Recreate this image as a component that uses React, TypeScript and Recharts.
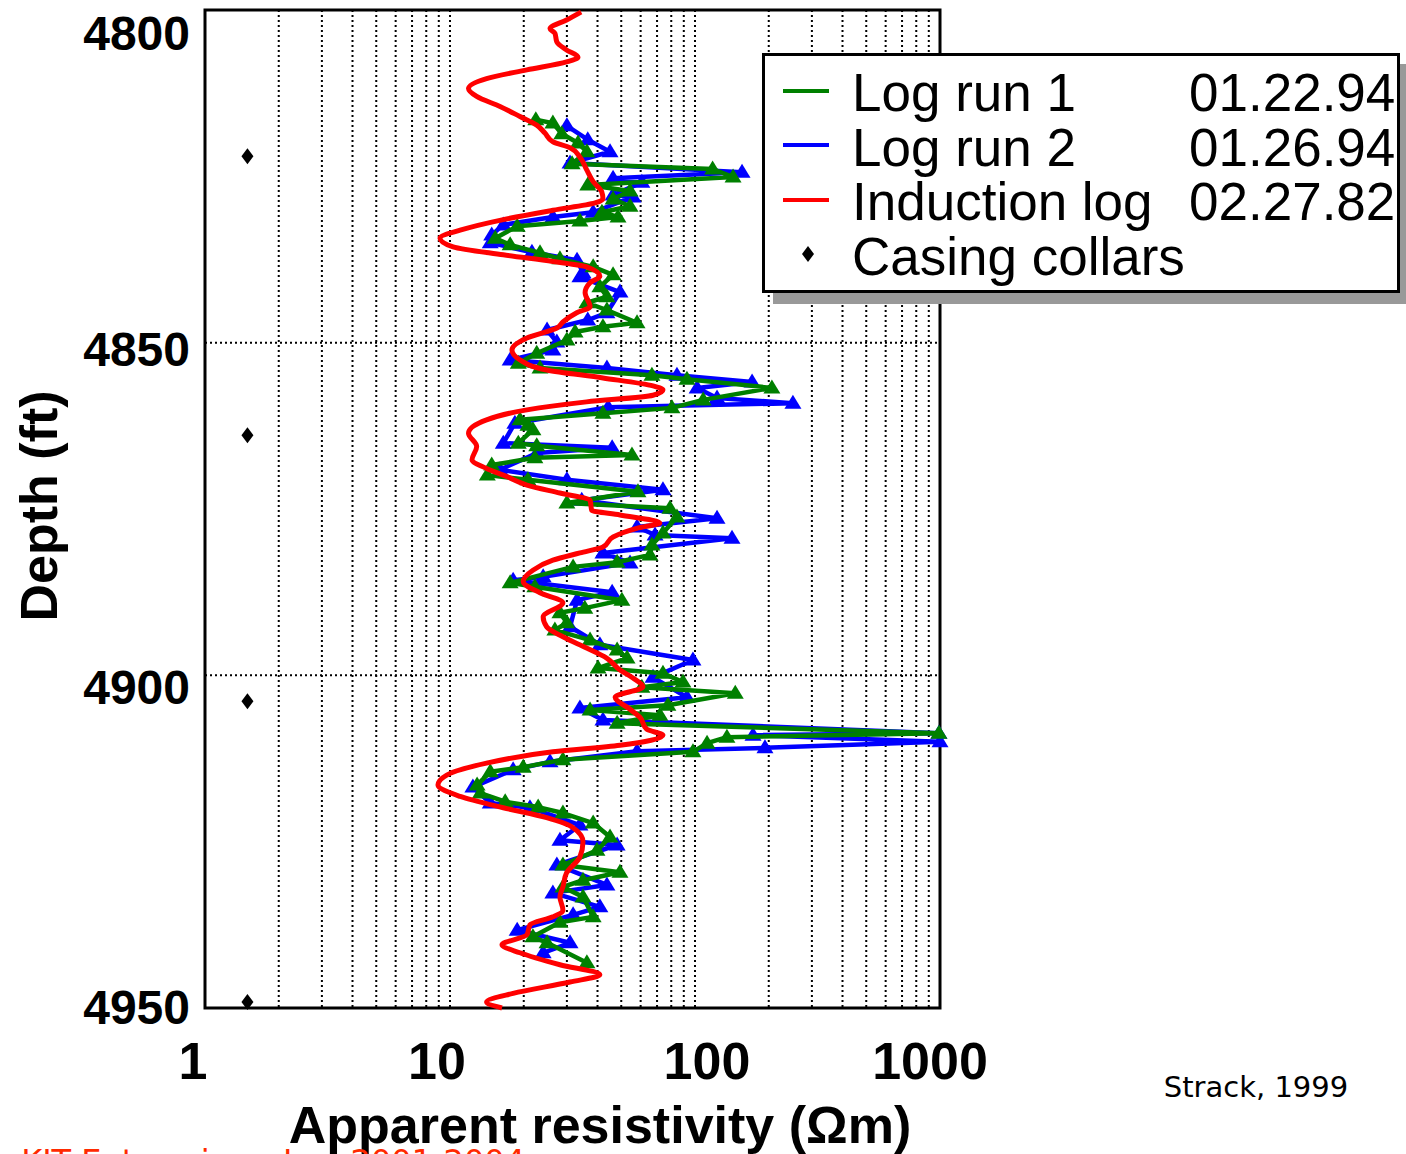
import React from 'react';
import {
  ScatterChart,
  Scatter,
  XAxis,
  YAxis,
  CartesianGrid,
  ReferenceArea,
  Legend,
  Customized,
} from 'recharts';

// ---------- axes ----------
const xTicks = [1, 10, 100, 1000];
const yTicks = [4800, 4850, 4900, 4950];
const xGridValues = [2, 3, 4, 5, 6, 7, 8, 9, 10, 20, 30, 40, 50, 60, 70, 80, 90, 100, 200, 300, 400, 500, 600, 700, 800, 900];
const yGridValues = [4850, 4900];

// ---------- Log run 1 (green), 01.22.94 ----------
const run1Depth = [
  4816.5, 4817.0, 4818.6, 4820.0, 4821.3, 4823.1, 4823.9, 4825.1, 4826.3, 4827.2,
  4828.4, 4829.5, 4830.4, 4831.1, 4831.7, 4832.5, 4834.3, 4835.3, 4836.5, 4837.4,
  4838.6, 4839.8, 4841.6, 4843.1, 4844.0, 4845.1, 4847.0, 4847.6, 4848.4, 4849.6,
  4851.6, 4853.1, 4853.8, 4854.9, 4855.5, 4856.8, 4858.6, 4859.8, 4860.6, 4861.6,
  4862.4, 4863.1, 4865.1, 4865.5, 4866.9, 4867.3, 4868.4, 4869.9, 4870.6, 4872.4,
  4874.1, 4874.9, 4876.2, 4878.6, 4880.4, 4881.9, 4883.0, 4883.7, 4886.1, 4886.7,
  4888.7, 4889.9, 4890.6, 4892.1, 4893.2, 4894.7, 4896.2, 4897.4, 4898.9, 4899.7,
  4901.0, 4901.8, 4902.7, 4904.5, 4905.2, 4906.0, 4907.2, 4908.7, 4909.3, 4910.2,
  4911.5, 4912.7, 4913.8, 4914.5, 4916.5, 4917.7, 4919.0, 4919.8, 4920.7, 4922.2,
  4924.3, 4926.3, 4928.5, 4929.6, 4930.8, 4931.8, 4933.3, 4936.3, 4937.1, 4939.3,
  4940.2, 4943.2,
];
const run1Res = [
  22.4, 26.3, 28.6, 33.3, 36.2, 31.5, 118, 143, 36.5, 54.3,
  46.3, 54.3, 41.7, 48.5, 33.9, 18.8, 15.3, 17.6, 23.3, 28.1,
  38.4, 46.3, 40.9, 43.7, 36.2, 43.7, 58.0, 42.1, 32.4, 30.0,
  22.6, 19.0, 23.3, 66.7, 92.7, 206, 108, 80.5, 42.1, 19.3,
  20.8, 21.8, 19.0, 22.6, 55.3, 22.2, 14.8, 14.2, 20.8, 58.5,
  30.0, 79.0, 84.4, 74.0, 66.7, 65.5, 48.1, 31.8, 17.6, 22.2,
  50.3, 35.5, 28.1, 30.0, 26.8, 37.3, 48.1, 52.8, 40.2, 74.0,
  89.3, 60.7, 146, 77.5, 37.3, 71.9, 48.1, 990, 135, 112,
  98.1, 28.9, 19.9, 14.6, 12.9, 13.3, 16.8, 22.9, 28.9, 38.4,
  45.0, 39.8, 28.9, 49.4, 34.9, 28.9, 34.9, 38.4, 28.1, 21.8,
  24.9, 36.2,
];

// ---------- Log run 2 (blue), 01.26.94 ----------
const run2Depth = [
  4817.4, 4819.5, 4821.3, 4823.0, 4824.4, 4825.3, 4825.9, 4827.8, 4828.1, 4830.4,
  4831.1, 4832.3, 4833.8, 4835.0, 4836.4, 4837.6, 4839.5, 4840.1, 4842.4, 4845.5,
  4846.6, 4848.1, 4849.9, 4851.1, 4852.6, 4853.8, 4854.9, 4855.9, 4856.8, 4858.3,
  4859.1, 4859.7, 4862.1, 4865.1, 4865.8, 4866.6, 4869.1, 4870.6, 4872.1, 4873.7,
  4876.4, 4877.7, 4878.9, 4879.4, 4881.6, 4883.1, 4885.2, 4885.7, 4887.5, 4888.7,
  4892.7, 4895.4, 4897.7, 4900.3, 4903.3, 4904.9, 4906.7, 4908.7, 4909.0, 4910.0,
  4910.9, 4911.4, 4913.0, 4914.2, 4916.8, 4919.2, 4919.9, 4922.5, 4924.8, 4925.5,
  4928.5, 4931.5, 4932.7, 4934.8, 4936.0, 4938.3, 4940.2, 4941.7,
];
const run2Res = [
  30.0, 36.5, 45.0, 30.9, 155.6, 46.3, 60.7, 46.3, 55.9, 38.4,
  26.3, 16.5, 14.8, 14.6, 21.6, 33.0, 34.9, 33.9, 49.4, 43.7,
  36.5, 24.9, 27.3, 26.3, 17.6, 43.7, 84.4, 171, 102, 123,
  251, 44.2, 18.4, 16.5, 45.9, 22.6, 16.0, 30.0, 74.0, 34.5,
  123, 58.0, 68.7, 141.6, 42.1, 54.3, 24.0, 18.1, 45.9, 33.0,
  30.9, 40.9, 98.1, 67.4, 92.7, 33.9, 42.1, 990, 172.5, 1000,
  193, 58.0, 25.6, 18.1, 12.4, 14.6, 21.2, 33.9, 28.1, 48.1,
  27.3, 43.7, 26.3, 40.9, 31.8, 18.8, 30.9, 24.0,
];

// ---------- Induction log (red), 02.27.82 ----------
const inductionDepth = [
  4800.3, 4801.5, 4802.8, 4803.5, 4804.8, 4806.0, 4807.1, 4807.8, 4809.0, 4810.3,
  4811.8, 4813.0, 4814.5, 4816.0, 4817.3, 4818.5, 4819.8, 4820.7, 4822.1, 4824.0,
  4825.8, 4827.3, 4828.4, 4829.0, 4830.1, 4831.5, 4833.1, 4834.3, 4835.6, 4836.8,
  4837.8, 4838.6, 4840.0, 4841.0, 4842.5, 4844.6, 4845.5, 4846.9, 4847.8, 4849.3,
  4851.1, 4852.6, 4854.1, 4855.3, 4856.5, 4857.1, 4857.9, 4858.9, 4860.1, 4861.6,
  4863.6, 4865.6, 4867.6, 4868.9, 4870.1, 4871.4, 4872.6, 4873.7, 4875.2, 4875.9,
  4877.1, 4877.9, 4879.2, 4880.7, 4881.6, 4882.7, 4884.2, 4885.9, 4887.6, 4889.1,
  4891.2, 4892.7, 4894.2, 4895.9, 4897.4, 4899.2, 4900.4, 4901.7, 4903.3, 4905.1,
  4906.3, 4908.1, 4909.0, 4910.5, 4911.5, 4913.2, 4915.0, 4916.5, 4918.2, 4919.9,
  4921.4, 4922.9, 4925.0, 4927.3, 4929.7, 4931.8, 4933.3, 4935.3, 4936.3, 4937.5,
  4939.0, 4940.5, 4941.7, 4943.5, 4945.0, 4946.1, 4947.8, 4949.1, 4950.0,
];
const inductionRes = [
  34.3, 29.9, 25.6, 26.8, 27.3, 29.9, 33.3, 29.9, 20.6, 14.1,
  11.9, 12.85, 16.0, 19.3, 22.6, 24.4, 26.3, 30.9, 33.9, 36.1,
  38.4, 41.6, 42.1, 39.1, 26.3, 16.5, 11.0, 9.1, 10.3, 16.5,
  26.3, 36.1, 40.9, 37.3, 35.6, 37.3, 32.9, 28.9, 27.3, 20.6,
  17.9, 19.3, 24.8, 42.1, 67.4, 74.0, 67.4, 36.1, 20.6, 14.1,
  11.9, 12.85, 12.3, 14.1, 17.0, 20.6, 28.1, 37.3, 37.9, 49.4,
  71.9, 57.8, 46.3, 42.1, 33.9, 26.3, 21.8, 19.9, 23.3, 28.9,
  24.0, 24.8, 28.9, 36.1, 43.6, 49.4, 55.8, 61.3, 47.2, 54.3,
  59.6, 63.5, 74.0, 49.4, 26.3, 14.1, 9.7, 8.93, 11.0, 16.5,
  24.8, 31.8, 34.9, 33.9, 29.9, 28.9, 28.1, 28.9, 26.3, 21.2,
  20.6, 16.3, 19.3, 28.1, 40.9, 30.9, 18.1, 14.1, 16.3,
];

// ---------- Casing collars ----------
const collarDepth = [4822.0, 4863.9, 4903.9, 4949.1];
const collarRes = [1.49, 1.49, 1.49, 1.49];

// ---------- legend ----------
const legendNames = ['Log run 1', 'Log run 2', 'Induction log', 'Casing collars'];
const legendDates = ['01.22.94', '01.26.94', '02.27.82', ''];
const legendColors = ['#008000', '#0000ff', '#ff0000', '#000000'];

const zip = (depths: number[], res: number[]) => depths.map((d, i) => ({ d, r: res[i] }));
const run1Data = zip(run1Depth, run1Res);
const run2Data = zip(run2Depth, run2Res);
const inductionData = zip(inductionDepth, inductionRes);
const collarData = zip(collarDepth, collarRes);

const FONT = '"Liberation Sans", Arial, Helvetica, sans-serif';

const makeTriangle = (color: string) => (props: any) => {
  const { cx, cy } = props;
  if (cx == null || cy == null) return <g />;
  return (
    <polygon
      points={`${cx},${cy - 8.5} ${cx - 8.5},${cy + 5.5} ${cx + 8.5},${cy + 5.5}`}
      fill={color}
    />
  );
};

const Diamond = (props: any) => {
  const { cx, cy } = props;
  if (cx == null || cy == null) return <g />;
  return <polygon points={`${cx},${cy - 8} ${cx + 6},${cy} ${cx},${cy + 8} ${cx - 6},${cy}`} fill="#000" />;
};

const NoShape = () => <g />;

const yTickShift = [23, 6, 11, -1];
const xTickShift = [-12, -13, 12, -10];

const YTick = (props: any) => {
  const { payload } = props;
  const idx = yTicks.indexOf(payload.value);
  const cy = payload.coordinate + (idx >= 0 ? yTickShift[idx] : 0);
  return (
    <text x={190} y={cy} dy="0.36em" textAnchor="end" fontFamily={FONT} fontWeight="bold" fontSize={48} fill="#000">
      {payload.value}
    </text>
  );
};

const XTick = (props: any) => {
  const { payload } = props;
  const idx = xTicks.indexOf(payload.value);
  const cx = payload.coordinate + (idx >= 0 ? xTickShift[idx] : 0);
  return (
    <text x={cx} y={1079} textAnchor="middle" fontFamily={FONT} fontWeight="bold" fontSize={52} fill="#000">
      {payload.value}
    </text>
  );
};

const Texts = () => (
  <g>
    <text x={600} y={1143} textAnchor="middle" fontFamily={FONT} fontWeight="bold" fontSize={52} fill="#000">
      Apparent resistivity (Ωm)
    </text>
    <text
      x={38}
      y={506}
      dy="0.36em"
      textAnchor="middle"
      transform="rotate(-90 38 506)"
      fontFamily={FONT}
      fontWeight="bold"
      fontSize={52}
      fill="#000"
    >
      Depth (ft)
    </text>
    <text x={1256} y={1097} textAnchor="middle" fontFamily='"DejaVu Sans", sans-serif' fontSize={29} fill="#000">
      Strack, 1999
    </text>
    <text x={525} y={1172} textAnchor="end" fontFamily='"DejaVu Sans", sans-serif' fontSize={32} fill="#ff2a00">
      KJT Enterprises, Inc. 2001-2004
    </text>
  </g>
);

const renderLegend = () => (
  <div
    style={{
      position: 'relative',
      width: 638,
      height: 240,
      boxSizing: 'border-box',
      border: '3px solid #000',
      background: '#fff',
      boxShadow: '11px 11px 0 #999',
      fontFamily: FONT,
      fontSize: 53,
      color: '#000',
    }}
  >
    {legendNames.map((name, i) => {
      const center = 36.5 + i * 54.5;
      return (
        <React.Fragment key={name}>
          {i < 3 ? (
            <div
              style={{
                position: 'absolute',
                left: 18,
                top: center - 4,
                width: 46,
                height: 4,
                background: legendColors[i],
              }}
            />
          ) : (
            <svg style={{ position: 'absolute', left: 35, top: center - 12 }} width={16} height={20}>
              <polygon points="8,2 14,10 8,18 2,10" fill="#000" />
            </svg>
          )}
          <div
            style={{
              position: 'absolute',
              left: 87,
              top: center - 26.5,
              height: 53,
              lineHeight: '53px',
              whiteSpace: 'nowrap',
            }}
          >
            {name}
          </div>
          {legendDates[i] ? (
            <div
              style={{
                position: 'absolute',
                left: 424,
                top: center - 26.5,
                height: 53,
                lineHeight: '53px',
                whiteSpace: 'nowrap',
              }}
            >
              {legendDates[i]}
            </div>
          ) : null}
        </React.Fragment>
      );
    })}
  </div>
);

export default function App() {
  return (
    <div style={{ position: 'absolute', left: 0, top: 0, width: 1406, height: 1154, overflow: 'hidden', background: '#fff' }}>
      <ScatterChart width={1406} height={1154} margin={{ top: 10, right: 466, bottom: 0, left: 0 }}>
        <CartesianGrid
          verticalValues={xGridValues}
          horizontalValues={yGridValues}
          stroke="#000"
          strokeWidth={2}
          strokeDasharray="2 3"
        />
        <XAxis
          type="number"
          dataKey="r"
          scale="log"
          domain={[1, 1000]}
          ticks={xTicks}
          height={146}
          axisLine={false}
          tickLine={false}
          tick={<XTick />}
          interval={0}
        />
        <YAxis
          type="number"
          dataKey="d"
          domain={[4800, 4950]}
          reversed
          ticks={yTicks}
          width={205}
          axisLine={false}
          tickLine={false}
          tick={<YTick />}
          interval={0}
        />
        <ReferenceArea x1={1} x2={1000} y1={4800} y2={4950} fill="none" fillOpacity={0} stroke="#000" strokeWidth={3} />
        <Scatter
          name="Log run 2"
          data={run2Data}
          fill="#0000ff"
          strokeWidth={4.5}
          line={{ stroke: '#0000ff', strokeWidth: 4.5, strokeLinejoin: 'round' }}
          lineJointType="linear"
          shape={makeTriangle('#0000ff')}
          isAnimationActive={false}
        />
        <Scatter
          name="Log run 1"
          data={run1Data}
          fill="#008000"
          strokeWidth={4.5}
          line={{ stroke: '#008000', strokeWidth: 4.5, strokeLinejoin: 'round' }}
          lineJointType="linear"
          shape={makeTriangle('#008000')}
          isAnimationActive={false}
        />
        <Scatter
          name="Induction log"
          data={inductionData}
          fill="#ff0000"
          strokeWidth={5}
          line={{ stroke: '#ff0000', strokeWidth: 5 }}
          lineJointType="monotoneY"
          shape={NoShape}
          isAnimationActive={false}
        />
        <Scatter name="Casing collars" data={collarData} fill="#000" shape={Diamond} isAnimationActive={false} />
        <Legend
          layout="horizontal"
          verticalAlign="middle"
          align="center"
          content={renderLegend}
          wrapperStyle={{ left: 762, top: 53, width: 638, height: 240 }}
        />
        <Customized component={Texts} />
      </ScatterChart>
    </div>
  );
}
